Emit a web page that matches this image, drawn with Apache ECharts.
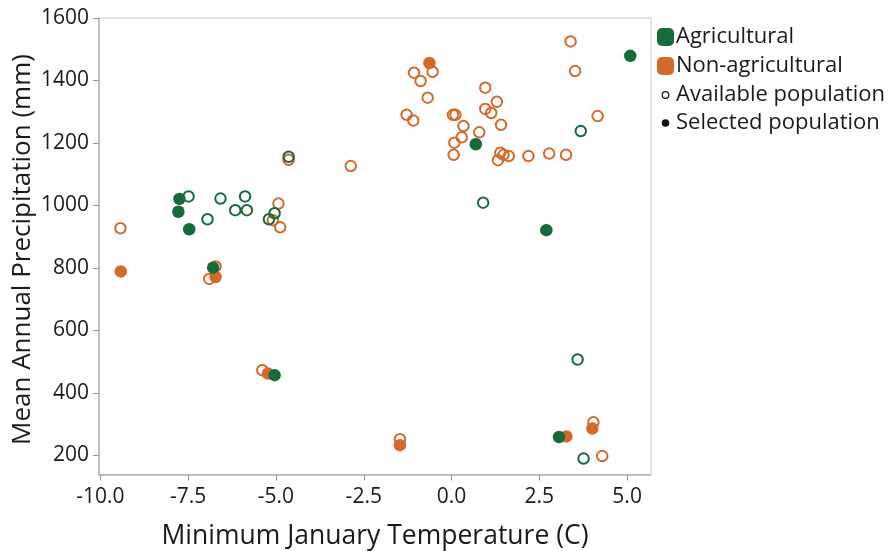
<!DOCTYPE html>
<html>
<head>
<meta charset="utf-8">
<script src="https://cdn.jsdelivr.net/npm/echarts@6/dist/echarts.min.js"></script>
<style>
  html, body { margin: 0; padding: 0; background: #fff; }
  #chart { width: 888px; height: 551px; }
</style>
</head>
<body>
<div id="chart"></div>
<script>
// [min January temperature (C), mean annual precipitation (mm)]
const agriAvailable = [
  [-4.64, 1156], [-7.49, 1029], [-6.95, 956], [-6.58, 1022], [-6.16, 985],
  [-5.88, 1029], [-5.83, 985], [-5.04, 975], [-5.20, 956], [3.68, 1238],
  [0.90, 1009], [3.59, 507], [3.76, 190]
];
const agriSelected = [
  [-7.75, 1021], [-7.78, 980], [-7.47, 924], [-6.79, 801], [-5.04, 457],
  [5.09, 1479], [0.69, 1196], [2.70, 921], [3.06, 259]
];
const nonAgriAvailable = [
  [-4.64, 1146], [-4.93, 1006], [-5.09, 953], [-4.88, 930], [-9.43, 927],
  [-6.72, 805], [-6.90, 765], [-5.39, 473], [3.39, 1525], [3.52, 1430],
  [-0.54, 1428], [-1.07, 1425], [-0.88, 1398], [-0.68, 1345], [0.96, 1377],
  [1.29, 1332], [0.96, 1309], [1.13, 1296], [-1.28, 1290], [-1.09, 1272],
  [0.04, 1290], [0.11, 1290], [4.16, 1286], [1.41, 1258], [0.34, 1254],
  [0.79, 1234], [0.29, 1218], [0.08, 1201], [0.06, 1162], [1.39, 1169],
  [1.48, 1162], [1.63, 1158], [1.32, 1145], [2.19, 1158], [2.78, 1166],
  [3.26, 1162], [-2.87, 1126], [4.04, 306], [-1.47, 252], [4.29, 198]
];
const nonAgriSelected = [
  [-9.42, 789], [-6.72, 771], [-5.23, 462], [-0.63, 1456], [4.01, 286],
  [3.27, 261], [-1.47, 233]
];

const xTicks = [-10, -7.5, -5, -2.5, 0, 2.5, 5];
const yTicks = [200, 400, 600, 800, 1000, 1200, 1400, 1600];

const GREEN = '#176a3a';
const ORANGE = '#d4692a';
const FONT = '"Open Sans", "Noto Sans", sans-serif';
const TEXT = '#1a1a1a';

function openSeries(name, data, color) {
  return {
    name, type: 'scatter', data, symbol: 'circle', symbolSize: 10.5,
    itemStyle: { color: 'rgba(255,255,255,0)', borderColor: color, borderWidth: 2, opacity: 1 },
    emphasis: { disabled: true }, z: 2
  };
}
function filledSeries(name, data, color) {
  return {
    name, type: 'scatter', data, symbol: 'circle', symbolSize: 12.5,
    itemStyle: { color, borderWidth: 0, opacity: 1 },
    emphasis: { disabled: true }, z: 3
  };
}

const chart = echarts.init(document.getElementById('chart'), null, { renderer: 'canvas' });

const legendRows = [
  { y: 37, text: 'Agricultural', kind: 'rect', color: GREEN },
  { y: 66, text: 'Non-agricultural', kind: 'rect', color: ORANGE },
  { y: 95, text: 'Available population', kind: 'ring' },
  { y: 123, text: 'Selected population', kind: 'dot' }
];
const legendGraphics = [];
legendRows.forEach(r => {
  if (r.kind === 'rect') {
    legendGraphics.push({ type: 'rect', left: 657, top: r.y - 9,
      shape: { width: 17, height: 18, r: 5 }, style: { fill: r.color } });
  } else if (r.kind === 'ring') {
    legendGraphics.push({ type: 'circle', shape: { cx: 665.5, cy: r.y, r: 3.3 },
      style: { fill: '#fff', stroke: '#111', lineWidth: 1.2 } });
  } else {
    legendGraphics.push({ type: 'circle', shape: { cx: 665.5, cy: r.y, r: 3.8 },
      style: { fill: '#111' } });
  }
  legendGraphics.push({ type: 'text', x: 676, y: r.y,
    style: { text: r.text, font: '22px ' + FONT, fill: TEXT, verticalAlign: 'middle' } });
});
legendGraphics.push({
  type: 'text', rotation: Math.PI / 2, x: 10, y: 445,
  style: { text: 'Mean Annual Precipitation (mm)', font: '26px ' + FONT, fill: TEXT }
});

chart.setOption({
  animation: false,
  backgroundColor: '#fff',
  grid: { left: 99, right: 237, top: 18, bottom: 76.5, show: true, outerBoundsMode: 'none',
    borderColor: '#c9c9c9', borderWidth: 1, backgroundColor: 'transparent' },
  xAxis: {
    type: 'value', min: -10.04, max: 5.68,
    name: 'Minimum January Temperature (C)', nameLocation: 'middle', nameGap: 48,
    nameTextStyle: { fontFamily: FONT, fontSize: 26.5, color: TEXT },
    axisLine: { show: true, onZero: false, lineStyle: { color: '#b4b4b4', width: 1.5 } },
    axisTick: { show: true, length: 6, lineStyle: { color: '#999' }, customValues: xTicks },
    axisLabel: { customValues: xTicks, margin: 12, fontFamily: FONT, fontSize: 21, color: TEXT,
      formatter: v => v.toFixed(1) },
    splitLine: { show: false }
  },
  yAxis: {
    type: 'value', min: 139, max: 1600,
    axisLine: { show: true, onZero: false, lineStyle: { color: '#b4b4b4', width: 1.5 } },
    axisTick: { show: true, length: 6, lineStyle: { color: '#999' }, customValues: yTicks },
    axisLabel: { customValues: yTicks, margin: 10, fontFamily: FONT, fontSize: 21, color: TEXT,
      formatter: v => String(v) },
    splitLine: { show: false }
  },
  graphic: legendGraphics,
  series: [
    openSeries('Non-agricultural available', nonAgriAvailable, ORANGE),
    openSeries('Agricultural available', agriAvailable, GREEN),
    filledSeries('Non-agricultural selected', nonAgriSelected, ORANGE),
    filledSeries('Agricultural selected', agriSelected, GREEN)
  ]
});
</script>
</body>
</html>
